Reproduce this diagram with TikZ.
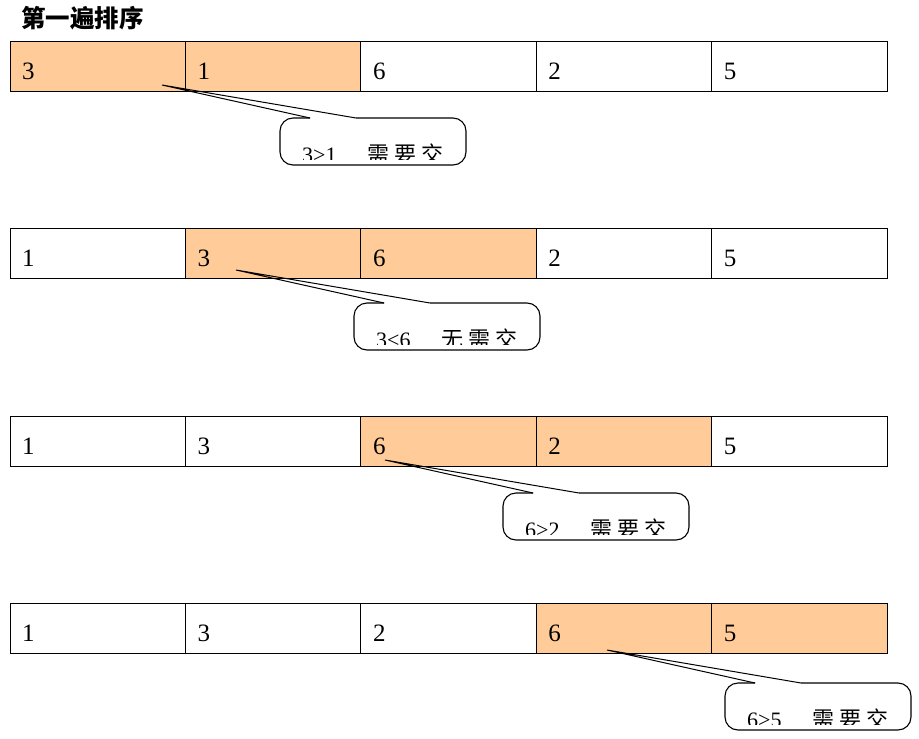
\documentclass[tikz,border=0pt]{standalone}
\usepackage{fontspec}
\setmainfont{Liberation Serif}
\newfontfamily\cjk{Noto Sans CJK SC}
\usetikzlibrary{calc}
\definecolor{peach}{HTML}{FFCC99}
\newcommand\sortrow[4]{%
  \foreach \v [count=\c] in {#4} {%
    \ifnum\c=#3\relax \def\st{hot}\else
      \ifnum\c=\numexpr#3+1\relax \def\st{hot}\else \def\st{cell}\fi
    \fi
    \node[\st] (r#1c\c) at ({10+(\c-1)*175.4},#2) {};
    \node[num] (t#1c\c) at ($(r#1c\c.north west)+(12,38)$) {\v};
  }%
}
\newcommand\callout[5]{%
  \node[bubble] (#1) at (#2,#3) {};
  \coordinate (#1tip) at ($(#1.north west)+(-118,-33)$);
  \coordinate (#1a) at ($(#1.north west)+(30,0)$);
  \coordinate (#1b) at ($(#1.north west)+(76,0)$);
  \draw[outline] (#1b) -- (#1.north east) -- (#1.south east) -- (#1.south west) -- (#1.north west) -- (#1a);
  \draw[ptr] (#1a) -- (#1tip) -- (#1b);
  \begin{scope}
    \clip (#1.north west) rectangle ($(#1.north east)+(0,41)$);
    \node[ctext] (#1n) at ($(#1.north west)+(22,44)$) {#4};
    \node[cjtext] (#1w) at ($(#1.north west)+(87,44)$) {#5};
  \end{scope}
}
\begin{document}
\begin{tikzpicture}[x=1pt,y=-1pt,
  cell/.style={draw=black, line width=0.8pt, minimum width=175.4pt, minimum height=50pt, inner sep=0pt, outer sep=0pt, anchor=north west},
  hot/.style={cell, fill=peach},
  num/.style={anchor=base west, inner sep=0pt, font=\fontsize{25}{30}\selectfont},
  bubble/.style={fill=white, rounded corners=13pt, minimum width=186pt, minimum height=47pt, inner sep=0pt, outer sep=0pt, anchor=north west},
  outline/.style={line width=1.1pt, rounded corners=13pt},
  ptr/.style={line width=1pt},
  ctext/.style={anchor=base west, inner sep=0pt, font=\fontsize{22}{26}\selectfont},
  cjtext/.style={anchor=base west, inner sep=0pt, font=\cjk\fontsize{22}{26}\selectfont},
  titletext/.style={anchor=base west, inner sep=0pt, font=\cjk\bfseries\fontsize{24.5}{29}\selectfont}
]
\useasboundingbox[fill=white] (0,0) rectangle (919,739);
\node[titletext] (title) at (21,27.5) {第一遍排序};
\sortrow{1}{41}{1}{3,1,6,2,5}
\sortrow{2}{228}{2}{1,3,6,2,5}
\sortrow{3}{416}{3}{1,3,6,2,5}
\sortrow{4}{603}{4}{1,3,2,6,5}
\callout{c1}{280}{118}{3>1}{需\hspace{5pt}要\hspace{5pt}交}
\callout{c2}{354}{303}{3<6}{无\hspace{5pt}需\hspace{5pt}交}
\callout{c3}{503}{493}{6>2}{需\hspace{5pt}要\hspace{5pt}交}
\callout{c4}{725}{683}{6>5}{需\hspace{5pt}要\hspace{5pt}交}
\end{tikzpicture}
\end{document}
